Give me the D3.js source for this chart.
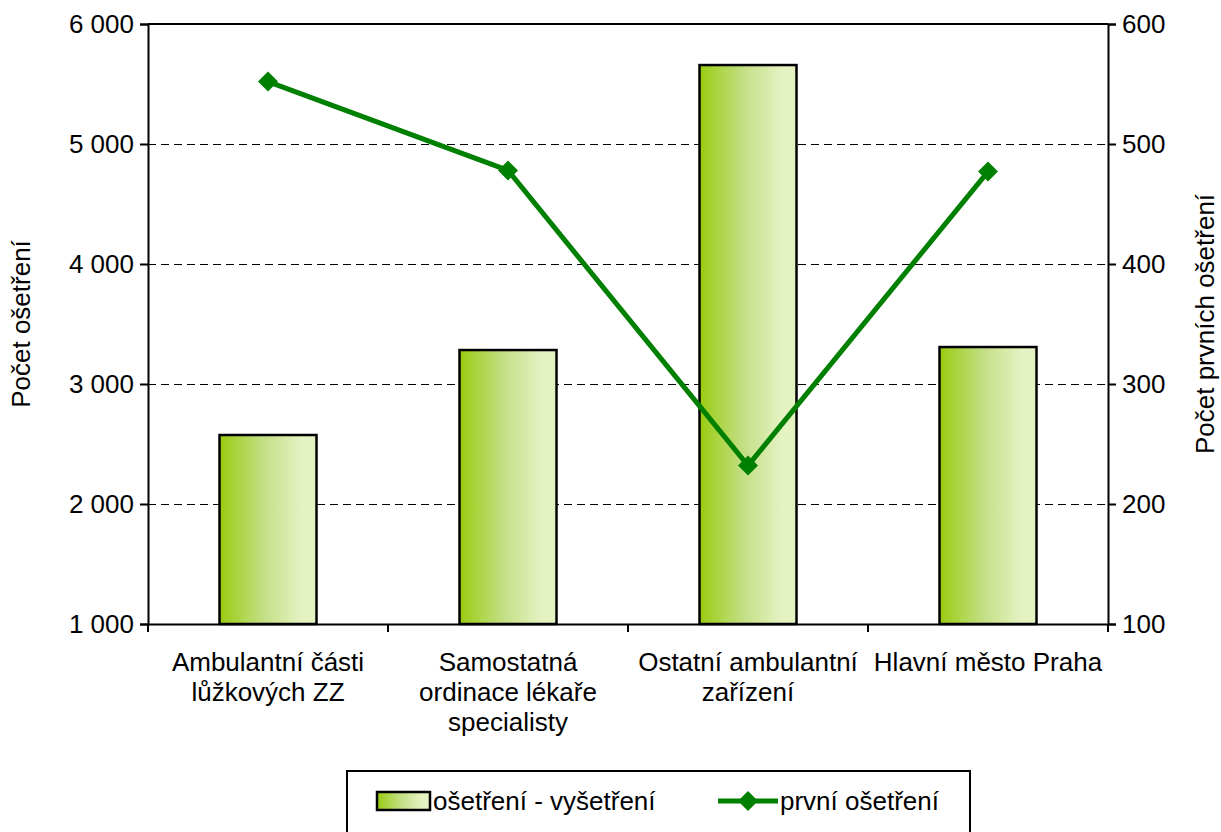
<!DOCTYPE html>
<html>
<head>
<meta charset="utf-8">
<script src="https://cdn.jsdelivr.net/npm/d3@7"></script>
<style>
  body { margin: 0; background: #fff; }
  text { font-family: "Liberation Sans", Arial, sans-serif; fill: #000; }
</style>
</head>
<body>
<script>
//chart data
var categories = [
    ["Ambulantní části", "lůžkových ZZ"],
    ["Samostatná", "ordinace lékaře", "specialisty"],
    ["Ostatní ambulantní", "zařízení"],
    ["Hlavní město Praha"]
];
var barValues = [2575, 3283, 5658, 3308];
var lineValues = [552, 478, 232, 477];
var leftTicks = [1000, 2000, 3000, 4000, 5000, 6000];
var rightTicks = [100, 200, 300, 400, 500, 600];
var barName = "ošetření - vyšetření",
    lineName = "první ošetření";

var width = 1221, height = 832;
var pLeft = 148, pRight = 1108, pTop = 24, pBottom = 624;
var fontSize = "26px";

var svg = d3.select("body").append("svg")
    .attr("width", width)
    .attr("height", height);

//gradient for bars
var grad = svg.append("defs").append("linearGradient")
    .attr("id", "barGrad")
    .attr("x1", "0%").attr("x2", "100%").attr("y1", "0%").attr("y2", "0%");
grad.append("stop").attr("offset", "0%").attr("stop-color", "#99cc11");
grad.append("stop").attr("offset", "45%").attr("stop-color", "#c3df84");
grad.append("stop").attr("offset", "85%").attr("stop-color", "#e5f2c2");
grad.append("stop").attr("offset", "100%").attr("stop-color", "#e5f2c2");

//scales
var x = d3.scaleBand()
    .domain(d3.range(categories.length))
    .range([pLeft, pRight])
    .paddingInner(0)
    .paddingOuter(0);
var yLeft = d3.scaleLinear().domain([1000, 6000]).range([pBottom, pTop]);
var yRight = d3.scaleLinear().domain([100, 600]).range([pBottom, pTop]);

var fmt = function (d) {
    return d3.format(",")(d).replace(/,/g, " ");
};

//gridlines
svg.selectAll(".grid")
    .data(leftTicks.slice(1, -1))
    .enter()
    .append("line")
    .attr("class", "grid")
    .attr("x1", pLeft).attr("x2", pRight)
    .attr("y1", function (d) { return yLeft(d) + 0.5; })
    .attr("y2", function (d) { return yLeft(d) + 0.5; })
    .attr("stroke", "#000")
    .attr("stroke-width", 1)
    .attr("stroke-dasharray", "8,5");

//top border line
svg.append("line")
    .attr("x1", pLeft).attr("x2", pRight)
    .attr("y1", pTop).attr("y2", pTop)
    .attr("stroke", "#000").attr("stroke-width", 2);

//bars
var barW = 97;
svg.selectAll(".bars")
    .data(barValues)
    .enter()
    .append("rect")
    .attr("class", "bars")
    .attr("x", function (d, i) { return x(i) + x.bandwidth() / 2 - barW / 2; })
    .attr("y", function (d) { return yLeft(d); })
    .attr("width", barW)
    .attr("height", function (d) { return pBottom - yLeft(d); })
    .attr("fill", "url(#barGrad)")
    .attr("stroke", "#000")
    .attr("stroke-width", 2.5);

//axes
var axLeft = svg.append("g")
    .attr("transform", "translate(" + pLeft + ",0)")
    .call(d3.axisLeft(yLeft).tickValues(leftTicks).tickFormat(fmt).tickSize(8).tickPadding(6));
var axRight = svg.append("g")
    .attr("transform", "translate(" + pRight + ",0)")
    .call(d3.axisRight(yRight).tickValues(rightTicks).tickSize(8).tickPadding(6));
var axBottom = svg.append("g")
    .attr("transform", "translate(0," + pBottom + ")")
    .call(d3.axisBottom(x).tickSize(0).tickFormat("").tickSizeOuter(0));

[axLeft, axRight, axBottom].forEach(function (g) {
    g.select(".domain").attr("stroke", "#000").attr("stroke-width", 2);
    g.selectAll(".tick line").attr("stroke", "#000").attr("stroke-width", 2);
    g.selectAll(".tick text")
        .style("font-family", "Liberation Sans, Arial, sans-serif")
        .style("font-size", fontSize)
        .attr("fill", "#000");
});

//category boundary ticks
svg.selectAll(".catTick")
    .data(d3.range(categories.length + 1))
    .enter()
    .append("line")
    .attr("x1", function (d) { return pLeft + d * x.bandwidth(); })
    .attr("x2", function (d) { return pLeft + d * x.bandwidth(); })
    .attr("y1", pBottom).attr("y2", pBottom + 8)
    .attr("stroke", "#000").attr("stroke-width", 2);

//category labels
var catLabels = svg.selectAll(".catLabel")
    .data(categories)
    .enter()
    .append("text")
    .attr("class", "catLabel")
    .attr("text-anchor", "middle")
    .style("font-size", fontSize);
catLabels.selectAll("tspan")
    .data(function (d, i) { return d.map(function (t) { return { t: t, i: i }; }); })
    .enter()
    .append("tspan")
    .attr("x", function (d) { return x(d.i) + x.bandwidth() / 2; })
    .attr("y", function (d, j) { return 671 + j * 30; })
    .text(function (d) { return d.t; });

//line series
var line = d3.line()
    .x(function (d, i) { return x(i) + x.bandwidth() / 2; })
    .y(function (d) { return yRight(d); });
svg.append("path")
    .datum(lineValues)
    .attr("d", line)
    .attr("fill", "none")
    .attr("stroke", "#008000")
    .attr("stroke-width", 5)
    .attr("stroke-linejoin", "round");

var diamond = d3.symbol().type(d3.symbolSquare).size(200);
svg.selectAll(".marker")
    .data(lineValues)
    .enter()
    .append("path")
    .attr("class", "marker")
    .attr("d", diamond)
    .attr("transform", function (d, i) {
        return "translate(" + (x(i) + x.bandwidth() / 2) + "," + yRight(d) + ") rotate(45)";
    })
    .attr("fill", "#008000");

//axis titles
svg.append("text")
    .attr("transform", "translate(30," + (pTop + pBottom) / 2 + ") rotate(-90)")
    .attr("text-anchor", "middle")
    .style("font-size", fontSize)
    .text("Počet ošetření");
svg.append("text")
    .attr("transform", "translate(1214," + (pTop + pBottom) / 2 + ") rotate(-90)")
    .attr("text-anchor", "middle")
    .style("font-size", fontSize)
    .text("Počet prvních ošetření");

//legend
var legend = svg.append("g");
legend.append("rect")
    .attr("x", 347).attr("y", 771)
    .attr("width", 623).attr("height", 80)
    .attr("fill", "#fff")
    .attr("stroke", "#000").attr("stroke-width", 2);
legend.append("rect")
    .attr("x", 377).attr("y", 792)
    .attr("width", 53).attr("height", 18)
    .attr("fill", "url(#barGrad)")
    .attr("stroke", "#000").attr("stroke-width", 2.5);
legend.append("text")
    .attr("x", 433).attr("y", 810)
    .style("font-size", fontSize)
    .text(barName);
legend.append("line")
    .attr("x1", 718).attr("x2", 778)
    .attr("y1", 801).attr("y2", 801)
    .attr("stroke", "#008000").attr("stroke-width", 5);
legend.append("path")
    .attr("d", diamond)
    .attr("transform", "translate(748,801) rotate(45)")
    .attr("fill", "#008000");
legend.append("text")
    .attr("x", 780).attr("y", 810)
    .style("font-size", fontSize)
    .text(lineName);
</script>
</body>
</html>
